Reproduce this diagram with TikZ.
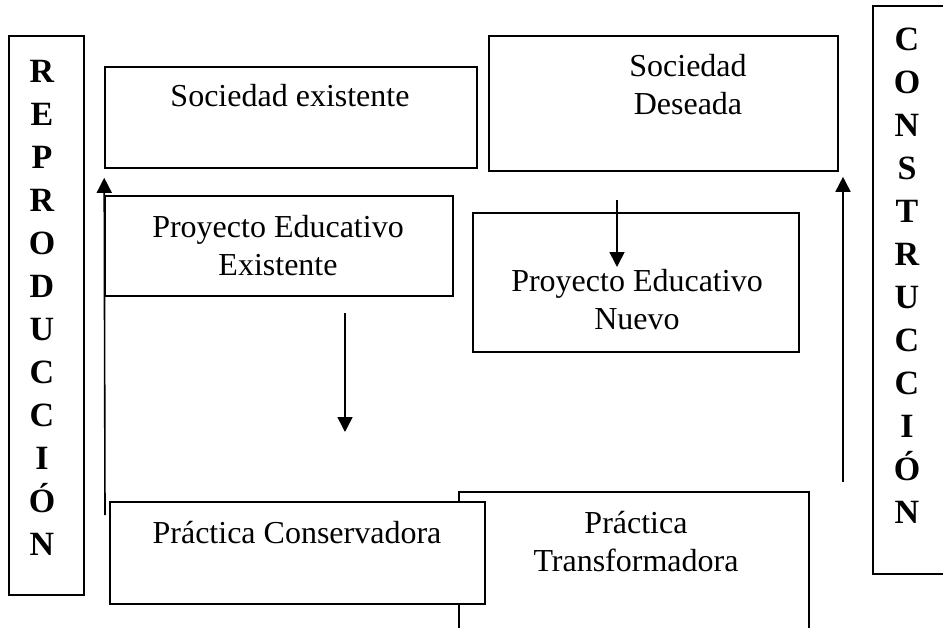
\documentclass[tikz,border=0pt]{standalone}
\usepackage{fontspec}
\setmainfont{Liberation Serif}
\usetikzlibrary{arrows.meta,positioning}

\begin{document}
\begin{tikzpicture}[x=1pt, y=-1pt,
                    box/.style={draw, line width=1.6pt, fill=white, inner sep=0pt},
                    txt/.style={align=center, inner sep=0pt, font=\fontsize{32}{38}\selectfont},
                    letters/.style={align=center, inner sep=0pt, font=\fontsize{34}{43}\selectfont\bfseries},
                    arr/.style={-{Triangle[width=15pt,length=15pt]}, line width=1.6pt}]
    %\draw[help lines] (0,0) grid (943,627);
   \clip (0,0) rectangle (943,627);

   % side boxes
   \node[box, minimum width=75pt, minimum height=559pt] (reproduccion) at (46.5,315.5) {};
   \node[box, minimum width=87pt, minimum height=568pt] (construccion) at (916.5,290) {};
   \node[letters] (reproduccion_txt) at (42,308) {R\\E\\P\\R\\O\\D\\U\\C\\C\\I\\Ó\\N};
   \node[letters] (construccion_txt) at (907,276) {C\\O\\N\\S\\T\\R\\U\\C\\C\\I\\Ó\\N};

   % boxes
   \node[box, minimum width=372pt, minimum height=101pt] (soc_existente) at (291,117.5) {};
   \node[box, minimum width=349pt, minimum height=135pt] (soc_deseada) at (663.5,103.5) {};
   \node[box, minimum width=348pt, minimum height=100pt] (proy_existente) at (279,246) {};
   \node[box, minimum width=326pt, minimum height=139pt] (proy_nuevo) at (636,282.5) {};
   \node[box, minimum width=350pt, minimum height=158pt] (prac_transformadora) at (634,571) {};
   \node[box, minimum width=375pt, minimum height=102pt] (prac_conservadora) at (297.5,553) {};

   \node[txt] (soc_existente_txt) at (290,96) {Sociedad existente};
   \node[txt] (soc_deseada_txt) at (688,85) {Sociedad\\Deseada};
   \node[txt] (proy_existente_txt) at (278,246) {Proyecto Educativo\\Existente};
   \node[txt] (proy_nuevo_txt) at (637,300) {Proyecto Educativo\\Nuevo};
   \node[txt] (prac_conservadora_txt) at (297,533) {Práctica Conservadora};
   \node[txt] (prac_transformadora_txt) at (636,542) {Práctica\\Transformadora};

   % free ends of the arrows
   \coordinate (repro_base) at (105,515);
   \coordinate (constr_base) at (843,482);
   \coordinate (mid_top) at (345,313);
   \coordinate (mid_tip) at (345,432);
   \coordinate (nuevo_tip) at (617,267);

   % Define arrows
   \draw[arr, shorten >=9pt] (repro_base) -- (soc_existente.south west);
   \draw[arr, shorten >=5pt] (constr_base) -- (constr_base |- soc_deseada.south);
   \draw[arr] (mid_top) -- (mid_tip);
   \draw[arr, shorten <=28pt] (nuevo_tip |- soc_deseada.south) -- (nuevo_tip);

\end{tikzpicture}
\end{document}
